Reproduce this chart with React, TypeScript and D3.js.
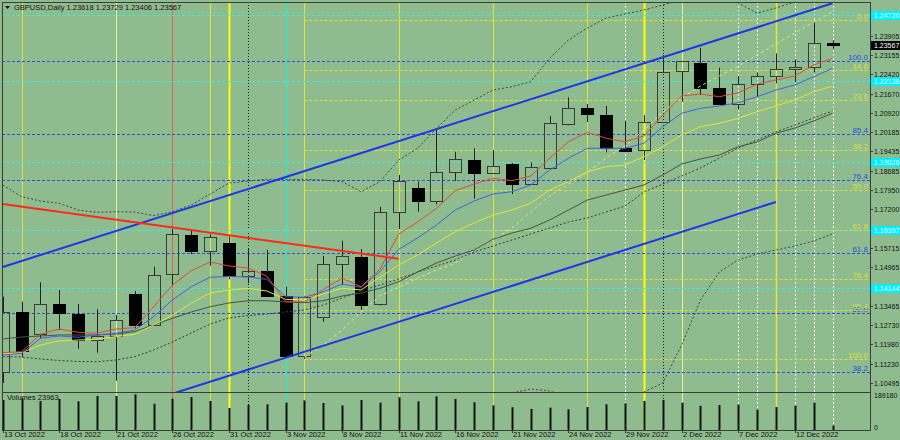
import React from 'react';
import * as d3 from 'd3';

// trading days shown on the chart (13 Oct 2022 .. 14 Dec 2022)
const days = [
  '13 Oct 2022', '14 Oct 2022', '17 Oct 2022', '18 Oct 2022', '19 Oct 2022', '20 Oct 2022', '21 Oct 2022',
  '24 Oct 2022', '25 Oct 2022', '26 Oct 2022', '27 Oct 2022', '28 Oct 2022', '31 Oct 2022', '1 Nov 2022',
  '2 Nov 2022', '3 Nov 2022', '4 Nov 2022', '7 Nov 2022', '8 Nov 2022', '9 Nov 2022', '10 Nov 2022',
  '11 Nov 2022', '14 Nov 2022', '15 Nov 2022', '16 Nov 2022', '17 Nov 2022', '18 Nov 2022', '21 Nov 2022',
  '22 Nov 2022', '23 Nov 2022', '24 Nov 2022', '25 Nov 2022', '28 Nov 2022', '29 Nov 2022', '30 Nov 2022',
  '1 Dec 2022', '2 Dec 2022', '5 Dec 2022', '6 Dec 2022', '7 Dec 2022', '8 Dec 2022', '9 Dec 2022',
  '12 Dec 2022', '13 Dec 2022', '14 Dec 2022',
];

const open = [1.10919, 1.13215, 1.12377, 1.13548, 1.13161, 1.12133, 1.12299, 1.13911, 1.12725, 1.14684, 1.16204, 1.15585, 1.15894, 1.14630, 1.14812, 1.13857, 1.11538, 1.13022, 1.15083, 1.15365, 1.13525, 1.17104, 1.18009, 1.17529, 1.18627, 1.19114, 1.18589, 1.18948, 1.18163, 1.18805, 1.20494, 1.21113, 1.20831, 1.19578, 1.19478, 1.20560, 1.22531, 1.22864, 1.21874, 1.21279, 1.22029, 1.22338, 1.22609, 1.22686, 1.23618];
const high = [1.13819, 1.13625, 1.14375, 1.14077, 1.13536, 1.13331, 1.13111, 1.14039, 1.14978, 1.16435, 1.16397, 1.16231, 1.16176, 1.15662, 1.15624, 1.14205, 1.13830, 1.15392, 1.15983, 1.15662, 1.17297, 1.18523, 1.18264, 1.20289, 1.19423, 1.19555, 1.19489, 1.18987, 1.19014, 1.20803, 1.21526, 1.21267, 1.21190, 1.20610, 1.20842, 1.23161, 1.22930, 1.23444, 1.22671, 1.22350, 1.22477, 1.23227, 1.22995, 1.24425, 1.23729];
const low = [1.10483, 1.11476, 1.12210, 1.12531, 1.11808, 1.11654, 1.10572, 1.12597, 1.12697, 1.14271, 1.15469, 1.15017, 1.14491, 1.14336, 1.13830, 1.11476, 1.11410, 1.12852, 1.14271, 1.13304, 1.13480, 1.16435, 1.17104, 1.17390, 1.18302, 1.17607, 1.18560, 1.17788, 1.18136, 1.18716, 1.20444, 1.20572, 1.19400, 1.19431, 1.19103, 1.20533, 1.21356, 1.21615, 1.21248, 1.21062, 1.21550, 1.22068, 1.22106, 1.22493, 1.23406];
const close = [1.13215, 1.11720, 1.13548, 1.13177, 1.12133, 1.12311, 1.12906, 1.12725, 1.14657, 1.16242, 1.15585, 1.16115, 1.14619, 1.14812, 1.13857, 1.11538, 1.13807, 1.15071, 1.15380, 1.13498, 1.17104, 1.18302, 1.17529, 1.18627, 1.19141, 1.18612, 1.18871, 1.18187, 1.18832, 1.20521, 1.21113, 1.20892, 1.19567, 1.19462, 1.20560, 1.22524, 1.22918, 1.21886, 1.21279, 1.22029, 1.22350, 1.22609, 1.22686, 1.23620, 1.23567];
const volume = [162000, 171000, 157000, 168000, 155000, 184000, 184000, 193000, 142000, 169000, 178000, 157000, 119000, 135000, 139000, 148000, 160000, 146000, 133000, 162000, 148000, 177000, 155000, 182000, 168000, 150000, 133000, 123000, 114000, 121000, 112000, 124000, 139000, 144000, 157000, 162000, 148000, 131000, 135000, 137000, 110000, 124000, 131000, 148000, 23963];

// indicator lines
const maRed = [1.11654, 1.11693, 1.12366, 1.12570, 1.12443, 1.12404, 1.12570, 1.12621, 1.13432, 1.14271, 1.14824, 1.15160, 1.15006, 1.14928, 1.14619, 1.13626, 1.13626, 1.14105, 1.14530, 1.14205, 1.14878, 1.16243, 1.16707, 1.17236, 1.17916, 1.18175, 1.18396, 1.18303, 1.18485, 1.19169, 1.19811, 1.20174, 1.19942, 1.19811, 1.20031, 1.20843, 1.21577, 1.21654, 1.21550, 1.21705, 1.22041, 1.22196, 1.22350, 1.22775, 1.23034];
const maBlue = [1.11565, 1.11631, 1.12211, 1.12300, 1.12250, 1.12339, 1.12404, 1.12532, 1.13046, 1.13691, 1.14206, 1.14569, 1.14600, 1.14581, 1.14492, 1.13819, 1.13796, 1.14012, 1.14310, 1.14182, 1.14785, 1.15651, 1.16088, 1.16591, 1.17170, 1.17518, 1.17789, 1.17878, 1.18137, 1.18717, 1.19169, 1.19555, 1.19555, 1.19555, 1.19749, 1.20390, 1.20908, 1.21102, 1.21191, 1.21318, 1.21550, 1.21809, 1.22002, 1.22323, 1.22648];
const maYellow = [1.11604, 1.11654, 1.11952, 1.12107, 1.12145, 1.12172, 1.12273, 1.12366, 1.12725, 1.13112, 1.13564, 1.13962, 1.14078, 1.14144, 1.14039, 1.13718, 1.13691, 1.13923, 1.14144, 1.14078, 1.14569, 1.15044, 1.15431, 1.15895, 1.16332, 1.16668, 1.16977, 1.17170, 1.17429, 1.17944, 1.18264, 1.18651, 1.18844, 1.18910, 1.19231, 1.19617, 1.20070, 1.20390, 1.20522, 1.20715, 1.20970, 1.21191, 1.21422, 1.21743, 1.21964];
const maGray = [1.12184, 1.12261, 1.12300, 1.12339, 1.12339, 1.12339, 1.12377, 1.12466, 1.12725, 1.12984, 1.13228, 1.13432, 1.13576, 1.13664, 1.13664, 1.13614, 1.13587, 1.13664, 1.13846, 1.13962, 1.14144, 1.14399, 1.14774, 1.15122, 1.15392, 1.15624, 1.16038, 1.16281, 1.16463, 1.16784, 1.17170, 1.17557, 1.17750, 1.17944, 1.18137, 1.18523, 1.18949, 1.19142, 1.19296, 1.19617, 1.19799, 1.20135, 1.20340, 1.20611, 1.20908];
const maSlow = [1.11500, 1.11488, 1.11411, 1.11353, 1.11314, 1.11306, 1.11372, 1.11500, 1.11759, 1.12068, 1.12416, 1.12764, 1.12996, 1.13092, 1.13150, 1.13228, 1.13305, 1.13498, 1.13769, 1.14039, 1.14271, 1.14503, 1.14774, 1.15006, 1.15238, 1.15547, 1.15779, 1.16011, 1.16243, 1.16475, 1.16707, 1.16861, 1.17093, 1.17325, 1.17866, 1.18175, 1.18485, 1.18794, 1.19181, 1.19567, 1.19876, 1.20186, 1.20456, 1.20727, 1.20997];
const envUpper = [1.18137, 1.17684, 1.17518, 1.17429, 1.17170, 1.17081, 1.17105, 1.17093, 1.16950, 1.17105, 1.17364, 1.17789, 1.18214, 1.18291, 1.18357, 1.18357, 1.18357, 1.18330, 1.18264, 1.17878, 1.18264, 1.19103, 1.19555, 1.20329, 1.21036, 1.21422, 1.21809, 1.21937, 1.22130, 1.23034, 1.23742, 1.24206, 1.24592, 1.24746, 1.24901, 1.25095, 1.25288, 1.25404, 1.25365, 1.25172, 1.24785, 1.24979, 1.25211, 1.25597, 1.25829];
const envLower: (number | null)[] = [null, null, null, null, null, null, null, null, null, null, null, null, null, null, null, null, null, null, null, null, null, null, null, null, null, null, 1.09903, 1.10097, 1.10251, 1.10174, 1.09942, 1.09749, 1.09633, 1.09826, 1.10135, 1.10483, 1.11952, 1.13692, 1.14774, 1.15238, 1.15470, 1.15624, 1.15779, 1.15972, 1.16243];
const envMid: (number | null)[] = [null, null, null, null, null, null, null, null, null, null, null, null, null, null, null, null, 1.11488, 1.11952, 1.12532, 1.13228, 1.13846, 1.14194, 1.14542, 1.14851, 1.15122, 1.15624, 1.16011, 1.16475, 1.17093, 1.17712, 1.18175, 1.18639, 1.19181, 1.19644, 1.20263, 1.20959, 1.21500, 1.21964, 1.22350, 1.22737, 1.23162, 1.23587, 1.24012, 1.24438, 1.24824];

// chart objects
const fibLevels = [0, 14.6, 23.6, 38.2, 50, 61.8, 76.4, 85.4, 100];
const fibYellow = { from: 16, p0: 1.24514, p100: 1.11410 };
const fibBlue = { from: 0, p0: 1.03486, p100: 1.22929 };
const cyanLevels = [1.24720, 1.22138, 1.19026, 1.16397, 1.14144];
const priceTicks = ['1.10495', '1.11230', '1.11980', '1.12730', '1.13465', '1.14215', '1.14965', '1.15715', '1.16450', '1.17200', '1.17950', '1.18685', '1.19435', '1.20185', '1.20920', '1.21670', '1.22420', '1.23155', '1.23905', '1.24655'];
const channelUpper = [[0, 1.14967], [44, 1.25160]];
const channelLower = [[9, 1.10069], [41, 1.17480]];
const redTrend = [[0, 1.17402], [21, 1.15287]];

const vYellow = [1, 11, 16, 21, 26, 31];
const vPaleYellow = [6, 36];
const vBrightYellow = [12, 34];
const vYellowWide = [41];
const vRed = [9];
const vCyan = [15];
const vBlackDot = [13, 35];
const vWhiteDot = [33, 39, 40, 42, 43, 44];

const BG = '#8fbc8f';
const FONT = '"Liberation Sans", Arial, sans-serif';
const L = 2, R = 870, T = 2, MB = 392, VB = 430;

const x = d3.scaleLinear().domain([0, 44]).range([2.7, 832.5]);
const y = d3.scaleLinear().domain([1.10135, 1.25288]).range([392, 0]);
const yv = d3.scaleLinear().domain([0, 189180]).range([430, 395]);
const px = (i: number) => Math.round(x(i)) + 0.5;

const line = d3.line<number | null>()
  .defined(d => d != null)
  .x((_, i) => x(i))
  .y(d => y(d as number));

const App: React.FC = () => {
  const bodyW = 13;

  const vLines = (idx: number[], stroke: string, w: number, dash?: string) =>
    idx.map(i => (
      <line key={stroke + i} x1={px(i)} x2={px(i)} y1={T} y2={VB} stroke={stroke} strokeWidth={w} strokeDasharray={dash} />
    ));

  // only the levels that fall inside the price window get a line and a label
  const fib = (f: { from: number; p0: number; p100: number }, color: string) =>
    fibLevels.map(lv => {
      const p = f.p0 + (f.p100 - f.p0) * lv / 100;
      const yy = Math.round(y(p)) + 0.5;
      if (yy < T + 8 || yy > MB) return null;
      return (
        <g key={color + lv}>
          <line x1={f.from === 0 ? L : px(f.from)} x2={R} y1={yy} y2={yy} stroke={color} strokeWidth={1} strokeDasharray="3,2" />
          <text x={868} y={yy - 2} textAnchor="end" fontSize={8} fill={color} fontFamily={FONT}>{lv.toFixed(1)}</text>
        </g>
      );
    });

  const seg = (pts: number[][]) => ({ x1: x(pts[0][0]), y1: y(pts[0][1]), x2: x(pts[1][0]), y2: y(pts[1][1]) });

  // axis labels hidden behind the cyan level boxes are not drawn (as in the terminal)
  const shownTicks = priceTicks.filter(t => cyanLevels.every(c => Math.abs(y(c) - y(+t)) > 7));

  return (
    <svg width={900} height={440} style={{ position: 'absolute', left: 0, top: 0, background: BG }}>
      <defs>
        <clipPath id="main"><rect x={L} y={T} width={R - L} height={MB - T} /></clipPath>
        <clipPath id="all"><rect x={L} y={T} width={R - L} height={VB - T} /></clipPath>
      </defs>
      <rect width={900} height={440} fill={BG} />

      <g clipPath="url(#all)">
        {vLines(vYellow, '#e2e43a', 1)}
        {vLines(vPaleYellow, '#eef096', 1)}
        {vLines(vBrightYellow, '#ffff00', 2)}
        {vLines(vYellowWide, '#e6e640', 1.5)}
        {vLines(vRed, '#e2604c', 1)}
        {vLines(vCyan, '#3fe0c8', 1.5)}
        {vLines(vBlackDot, '#222', 1, '1,2')}
        {vLines(vWhiteDot, '#f6f6f6', 1, '2,2')}
      </g>

      <g clipPath="url(#main)">
        {cyanLevels.map(p => (
          <line key={'c' + p} x1={L} x2={R} y1={Math.round(y(p)) + 0.5} y2={Math.round(y(p)) + 0.5} stroke="#40e8e0" strokeWidth={1} strokeDasharray="3,2" />
        ))}
        {fib(fibBlue, '#3348e0')}
        {fib(fibYellow, '#dede3a')}

        {open.map((o, i) => {
          const c = close[i];
          const bull = c >= o;
          const top = Math.round(y(Math.max(o, c))) + 0.5;
          const bot = Math.round(y(Math.min(o, c))) + 0.5;
          const cx = px(i);
          return (
            <g key={'k' + i}>
              <line x1={cx} x2={cx} y1={y(high[i])} y2={top} stroke="#222" />
              <line x1={cx} x2={cx} y1={bot} y2={y(low[i])} stroke="#222" />
              <rect x={cx - (bodyW - 1) / 2} y={top} width={bodyW - 1} height={Math.max(bot - top, 1)}
                fill={bull ? 'none' : '#000'} stroke={bull ? '#3a3a3a' : '#000'} strokeWidth={1} />
            </g>
          );
        })}

        <path d={line(envUpper) || ''} fill="none" stroke="#3a4a3a" strokeWidth={1} strokeDasharray="2,2" />
        <path d={line(envLower) || ''} fill="none" stroke="#3a4a3a" strokeWidth={1} strokeDasharray="2,2" />
        <path d={line(envMid) || ''} fill="none" stroke="#e4e67a" strokeWidth={1} strokeDasharray="3,3" />
        <path d={line(maSlow) || ''} fill="none" stroke="#3a3a3a" strokeWidth={1} strokeDasharray="2,2" />
        <path d={line(maGray) || ''} fill="none" stroke="#445244" strokeWidth={1} />
        <path d={line(maYellow) || ''} fill="none" stroke="#e6e632" strokeWidth={1} />
        <path d={line(maBlue) || ''} fill="none" stroke="#4262e6" strokeWidth={1} />
        <path d={line(maRed) || ''} fill="none" stroke="#e24a32" strokeWidth={1} />

        <line {...seg(channelUpper)} stroke="#1f35e8" strokeWidth={2} />
        <line {...seg(channelLower)} stroke="#1f35e8" strokeWidth={2} />
        <line {...seg(redTrend)} stroke="#ff2a1a" strokeWidth={2} />
      </g>

      {/* volumes */}
      {volume.map((v, i) => (
        <line key={'v' + i} x1={px(i)} x2={px(i)} y1={yv(v)} y2={VB} stroke="#111" strokeWidth={2} />
      ))}

      {/* frame */}
      <rect x={L + 0.5} y={T + 0.5} width={R - L} height={VB - T} fill="none" stroke="#3c3c3c" />
      <line x1={L} x2={R} y1={MB + 0.5} y2={MB + 0.5} stroke="#3c3c3c" />

      {/* price axis */}
      {shownTicks.map(t => {
        const yy = Math.round(y(+t)) + 0.5;
        return (
          <g key={'t' + t}>
            <line x1={R} x2={R + 3} y1={yy} y2={yy} stroke="#3c3c3c" />
            <text x={874} y={yy + 2.5} fontSize={7} fill="#111" fontFamily={FONT}>{t}</text>
          </g>
        );
      })}
      {cyanLevels.map(p => (
        <g key={'cl' + p}>
          <rect x={R + 1} y={Math.round(y(p)) - 4} width={29} height={9} fill="#00eeff" />
          <text x={874} y={Math.round(y(p)) + 3} fontSize={7} fill="#e8ffff" fontFamily={FONT}>{p.toFixed(5)}</text>
        </g>
      ))}
      <rect x={R + 1} y={Math.round(y(close[44])) - 4} width={29} height={9} fill="#000" />
      <text x={874} y={Math.round(y(close[44])) + 3} fontSize={7} fill="#fff" fontFamily={FONT}>{close[44].toFixed(5)}</text>

      <text x={874} y={398} fontSize={7} fill="#111" fontFamily={FONT}>189180</text>
      <text x={874} y={430} fontSize={7} fill="#111" fontFamily={FONT}>0</text>

      {/* date axis */}
      {days.map((d, i) => i % 3 === 0 ? (
        <g key={'d' + i}>
          <line x1={px(i)} x2={px(i)} y1={VB} y2={VB + 3} stroke="#3c3c3c" />
          <text x={px(i) + 0.5} y={437} fontSize={7.5} fill="#111" fontFamily={FONT}>{d}</text>
        </g>
      ) : null)}

      {/* captions */}
      <path d="M5,6 L10,6 L7.5,9 Z" fill="#111" />
      <text x={14} y={10} fontSize={7.5} fill="#111" fontFamily={FONT}>GBPUSD,Daily  1.23618 1.23729 1.23406 1.23567</text>
      <text x={7} y={400} fontSize={7.5} fill="#111" fontFamily={FONT}>Volumes 23963</text>
    </svg>
  );
};

export default App;
